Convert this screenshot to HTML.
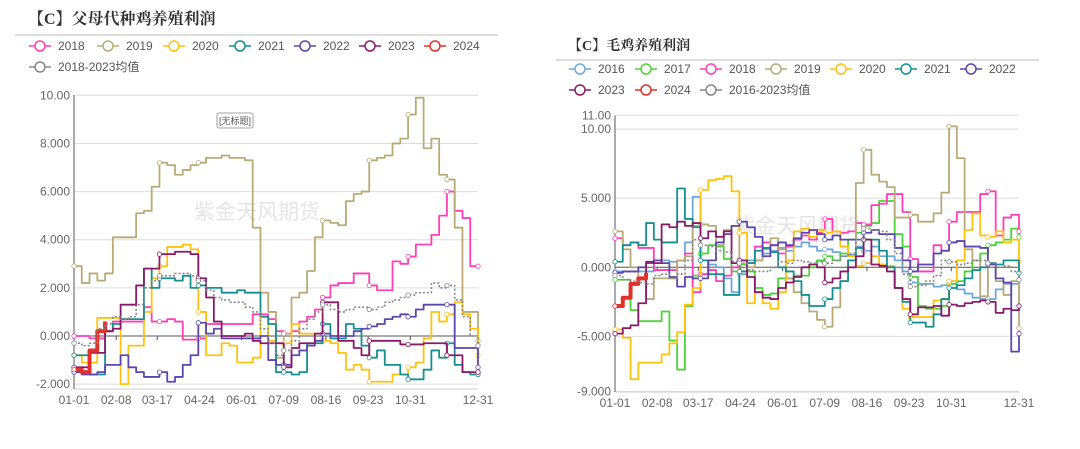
<!DOCTYPE html>
<html><head><meta charset="utf-8"><style>
body{margin:0;background:#fff;}
svg text{font-family:"Liberation Sans","Noto Sans CJK SC",sans-serif;}
</style></head><body>
<svg id="svg" width="1080" height="444" viewBox="0 0 1080 444" xmlns="http://www.w3.org/2000/svg">
<rect x="0" y="0" width="1080" height="444" fill="#fff"/>
<text x="28" y="24" font-size="16" font-weight="bold" fill="#333" style="font-family:'Liberation Serif','Noto Serif CJK SC',serif">【C】父母代种鸡养殖利润</text>
<line x1="15" y1="35" x2="498" y2="35" stroke="#bbb" stroke-width="1"/>
<text x="568" y="50" font-size="14" font-weight="bold" fill="#333" style="font-family:'Liberation Serif','Noto Serif CJK SC',serif">【C】毛鸡养殖利润</text>
<line x1="556" y1="60" x2="1039" y2="60" stroke="#bbb" stroke-width="1"/>
<g id="left"></g>
<g id="right"></g>
<g>
<rect x="217" y="113" width="36" height="15" rx="2" fill="#fff" stroke="#888" stroke-width="0.8"/>
<text x="235" y="124" font-size="9" fill="#555" text-anchor="middle">[无标题]</text>
</g>
</svg>
<script>
// ===== Left chart data (weekly, week 0 = 01-01) =====
const leftYears = ["2018","2019","2020","2021","2022","2023","2024","2018-2023均值"];
const L2018 = [0,0,-0.1,-0.1,0.2,0.6,0.6,0.6,0.6,1.2,0.6,0.6,0.7,0.6,-0.15,-0.15,-0.1,0.5,0.5,0.5,0.5,0.5,0.5,0.9,0.9,0.7,0.2,0.1,0.2,0.6,0.8,1.1,1.6,2.1,2.2,2.2,2.6,2.6,2.1,1.9,1.9,3.1,3.0,3.3,3.8,3.8,4.2,5.0,6.0,5.2,4.9,2.9,2.9];
const L2019 = [2.9,2.2,2.6,2.3,2.6,4.1,4.1,4.1,5.1,5.2,6.2,7.2,7.1,6.7,6.9,7.1,7.2,7.4,7.4,7.5,7.4,7.4,7.3,4.5,1.8,1.0,-0.9,0.1,1.6,1.8,2.7,4.1,4.8,4.7,4.6,5.6,5.9,6.0,7.3,7.4,7.5,8.0,8.2,9.2,9.9,7.8,8.2,6.7,6.5,4.5,1.0,1.0,-0.2];
const L2020 = [-0.8,-1.1,-1.1,0.75,0.75,0.75,-2.0,-0.4,-0.4,1.0,2.4,2.9,3.7,3.7,3.8,3.6,1.0,-0.8,-0.8,-0.3,-0.4,-1.1,-1.1,-0.9,0.8,-0.2,-0.3,-0.3,0.5,0.1,0.1,0.1,-0.2,-0.3,-0.7,-1.4,-1.2,-1.4,-1.9,-1.9,-1.9,-1.6,-1.6,-1.3,-1.1,-0.1,1.0,0.6,0.9,1.4,0.9,0.3,-0.8];
const L2021 = [-0.8,-0.8,-1.6,-1.6,0.2,0.5,0.7,0.7,0.7,2.8,2.0,2.4,2.4,2.3,2.5,2.0,2.1,2.0,2.0,1.8,1.8,1.9,1.8,1.8,0.8,0.5,-1.5,-1.5,-1.6,-1.5,-0.3,-0.3,0.5,-0.1,-0.1,0.5,0.3,-0.4,-0.9,-0.6,-1.2,-1.2,-1.6,-1.8,-1.8,-1.4,-0.6,-0.9,-0.3,-1.2,-1.5,-1.6,-1.6];
const L2022 = [-1.5,-1.6,-1.6,-1.5,-1.2,-1.2,-0.8,-1.3,-1.5,-1.7,-1.7,-1.5,-1.9,-1.7,-1.2,-0.8,0.55,0.1,0.3,-0.1,-0.1,-0.1,-0.1,-0.1,0.0,-1.0,-1.2,-1.2,-0.8,-0.6,-0.4,-0.2,0.1,0.0,0.0,0.0,0.2,0.3,0.4,0.5,0.7,0.8,0.9,0.8,1.1,1.3,1.3,1.3,1.3,-0.5,-0.5,-0.5,-1.3];
const L2023 = [-1.3,-1.3,-0.7,-0.7,0.2,0.3,1.3,1.3,2.1,2.8,2.8,3.4,3.4,3.5,3.5,3.4,2.4,1.6,0.6,0.0,0.0,0.0,0.1,-0.2,-0.3,-0.3,-0.3,-1.3,-0.5,-0.3,-0.3,0.1,1.4,1.4,-0.2,-0.2,-0.5,-0.8,-0.2,-0.2,-0.2,-0.2,-0.35,-0.35,-0.35,-0.3,-0.3,-0.3,-0.8,-0.8,-1.5,-1.5,-1.5];
const L2024 = [-1.4,-1.5,-0.6,0.2,0.6];
const LAvg = [-0.3,-0.4,-0.3,0.3,0.5,0.8,0.7,0.8,1.3,2.0,2.3,2.5,2.5,2.6,2.6,2.5,2.3,1.9,1.6,1.5,1.4,1.4,1.2,1.0,0.3,-0.3,-0.8,-0.6,-0.2,0.3,0.7,1.0,1.3,1.1,1.0,1.1,1.2,1.2,1.1,1.2,1.4,1.5,1.6,1.7,1.8,1.8,2.2,2.0,2.1,1.5,0.8,0.0,-0.4];
const leftYTicks = ["10.00","8.000","6.000","4.000","2.000","0.000","-2.000"];
const leftYTickVals = [10,8,6,4,2,0,-2];

// ===== Right chart data =====
const rightYears = ["2016","2017","2018","2019","2020","2021","2022","2023","2024","2016-2023均值"];
const R2016 = [-0.3,-0.3,-0.3,-0.3,-0.3,0.5,0.5,0.4,0.5,1.8,5.1,-0.5,0.2,0.0,-0.8,-1.8,-0.5,0.5,0.5,1.0,1.2,1.4,1.2,1.5,1.8,1.5,1.2,1.3,1.1,0.8,0.9,1.5,1.2,1.5,0.8,0.8,0.5,-0.3,-1.1,-1.2,-1.2,-1.4,-1.3,-1.2,-1.6,-1.9,-2.2,-2.3,-2.3,-1.6,-1.2,-1.2,-0.4];
const R2017 = [-0.9,-0.9,-3.1,-3.9,-3.9,-3.9,-3.2,-5.3,-7.4,-2.8,-0.6,1.0,1.6,1.5,0.6,-0.3,0.2,-0.3,-1.5,-2.0,-1.9,-0.8,-0.8,-0.6,-0.6,0.0,0.5,0.8,0.5,1.0,2.0,2.5,3.0,3.2,4.8,4.8,2.4,1.5,-0.7,-2.8,-3.0,-3.0,-2.8,-1.2,-1.0,-0.3,0.5,1.0,1.6,1.8,2.0,2.8,2.2];
const R2018 = [2.1,1.6,1.8,1.4,1.4,-0.2,-0.2,-0.2,0.5,1.0,-1.8,-0.5,-0.2,-1.0,-0.6,0.0,0.5,0.3,1.5,1.8,1.6,1.0,1.5,2.0,2.3,2.0,2.5,3.5,2.6,2.5,2.6,3.2,3.1,4.5,4.6,5.3,5.3,4.0,0.6,-0.3,-0.3,1.6,1.2,3.3,4.0,4.0,4.0,5.3,5.5,2.3,3.6,3.8,2.6];
const R2019 = [2.6,1.3,0.0,-0.8,-2.3,-0.8,-0.8,-0.8,0.5,0.8,3.0,3.1,3.0,1.6,2.7,3.0,0.5,0.0,0.5,1.3,2.1,1.3,-0.8,-1.8,-2.6,-3.2,-3.8,-4.3,-2.9,-1.0,0.5,6.1,8.5,6.7,6.2,5.8,3.6,3.6,3.8,3.3,3.3,3.9,5.4,10.2,7.9,1.3,0.5,-2.1,0.3,-1.0,-2.0,-1.0,-4.4];
const R2020 = [-4.5,-5.1,-8.1,-6.9,-6.9,-6.9,-6.3,-5.5,-4.7,-2.7,-1.5,5.6,6.3,6.4,6.6,5.5,2.5,-2.6,-1.8,-2.6,-3.0,-1.8,0.5,2.6,2.8,2.2,2.7,2.5,2.6,1.5,0.8,0.1,0.3,0.8,0.2,0.1,-1.5,-3.0,-3.6,-3.6,-3.6,-2.4,-2.3,-1.0,0.5,2.7,3.9,2.3,2.2,2.6,1.8,2.0,0.4];
const R2021 = [0.4,1.6,1.8,1.6,3.2,2.0,1.8,1.8,5.7,3.5,2.9,0.5,-0.5,-0.5,-2.0,-2.0,-0.3,0.3,1.2,1.4,1.1,0.0,-0.3,-1.0,-2.0,-2.8,-2.8,-2.3,-1.5,-1.0,0.5,1.4,2.0,2.0,1.2,0.0,-1.5,-2.5,-4.0,-4.0,-4.3,-3.4,-2.3,-1.5,-1.3,-0.8,-0.2,0.0,0.3,0.2,0.5,0.5,-0.4];
const R2022 = [-0.4,-0.3,-0.3,0.0,0.3,0.5,0.3,-0.7,-1.4,-0.7,-0.8,-0.8,0.5,1.8,2.4,3.0,3.3,2.9,2.2,0.8,1.6,1.8,1.6,2.1,2.5,2.7,2.4,2.0,2.3,2.0,2.0,2.0,2.5,2.7,2.4,2.4,1.4,0.5,-0.3,0.2,0.2,1.0,1.2,1.8,1.9,1.5,1.5,1.4,0.2,-0.8,-1.1,-6.1,-4.8];
const R2023 = [-4.8,-4.4,-4.2,-2.6,0.4,0.3,3.1,2.9,3.3,3.0,3.2,2.1,2.6,2.2,2.6,0.3,0.5,-0.7,-1.8,-2.2,-2.3,-1.5,-1.1,-0.7,0.0,0.2,0.0,-1.1,-0.8,-0.3,0.0,0.8,2.0,0.2,0.1,-0.3,-1.5,-2.3,-3.4,-2.9,-2.9,-2.8,-3.5,-2.7,-2.8,-2.6,-2.5,-2.4,-2.5,-3.3,-3.0,-3.1,-2.8];
const R2024 = [-2.8,-2.2,-1.2,-0.8,-0.4];
const RAvg = [-0.6,-0.9,-1.0,-1.1,-1.2,-0.6,-0.5,-0.8,-0.5,0.5,2.0,1.6,1.5,1.2,1.1,0.4,0.3,-0.2,-0.3,-0.3,0.0,0.4,0.3,0.5,0.4,0.3,0.4,0.3,0.5,0.8,1.0,2.0,2.8,2.7,2.6,2.0,1.0,-0.5,-1.4,-1.3,-1.0,-0.6,0.5,0.4,0.2,0.3,0.5,0.5,0.3,0.0,0.1,-0.3,-0.9];
const rightYTicks = ["11.00","10.00","5.000","0.000","-5.000","-9.000"];
const rightYTickVals = [11,10,5,0,-5,-9];

const xTickLabels = ["01-01","02-08","03-17","04-24","06-01","07-09","08-16","09-23","10-31","12-31"];
const xTickDays = [0,38,75,113,151,189,227,265,303,364];

const NS = "http://www.w3.org/2000/svg";
function mk(tag, attrs, parent){ const e=document.createElementNS(NS,tag); for(const k in attrs) e.setAttribute(k,attrs[k]); if(parent) parent.appendChild(e); return e; }

function drawChart(g, cfg){
  const xS = d => cfg.x0 + d/364*(cfg.x1-cfg.x0);
  const yS = v => cfg.yZero - v*cfg.ppu;
  cfg.yTickVals.forEach((v,i)=>{
    const gl = mk("line",{x1:cfg.x0,x2:cfg.x1,y1:yS(v),y2:yS(v),stroke:v===0?"#555":"#ddd","stroke-width":1},g);
    
    
    const t = mk("text",{x:cfg.x0-4,y:yS(v)+4,"font-size":12,fill:"#666","text-anchor":"end"},g);
    t.textContent = cfg.yTicks[i];
    
    
  });
  const bl = mk("line",{x1:cfg.x0,x2:cfg.x1,y1:cfg.yBottom,y2:cfg.yBottom,stroke:"#ccc","stroke-width":1},g);
  
  
  const ax = mk("line",{x1:cfg.x0,x2:cfg.x0,y1:cfg.yTop,y2:cfg.yBottom,stroke:"#555","stroke-width":1},g);
  
  
  xTickLabels.forEach((lab,i)=>{
    const x = xS(xTickDays[i]);
    const tk = mk("line",{x1:x,x2:x,y1:yS(0),y2:yS(0)+4,stroke:"#555"},g);
    
    
    const t = mk("text",{x:x,y:cfg.yBottom+15,"font-size":12,fill:"#666","text-anchor":"middle"},g);
    t.textContent = lab;
    
    
  });
  const wm = mk("text",{x:cfg.wmX,y:cfg.wmY,"font-size":21,fill:"#ccc","fill-opacity":0.5},g);
  wm.textContent = "紫金天风期货";
  
  
  cfg.series.forEach((s,si)=>{
    let d="";
    s.data.forEach((v,i)=>{
      const x = xS(Math.min(i*7,364)), y=yS(v);
      if(i===0) d+="M"+x+","+y;
      else { d+="H"+x+"V"+y; }
    });
    if(s.data.length===53) d+="H"+xS(364);
    const p = mk("path",{d:d,fill:"none",stroke:s.color,"stroke-width":s.w||1.8,"stroke-dasharray":s.dash||"none","stroke-linejoin":"round"},g);
    
    
    const marks = s.data.length===53 ? [0,11,16,27,32,38,43,48,52] : [0];
    marks.forEach(i=>{
      const c = mk("circle",{cx:xS(Math.min(i*7,364)),cy:yS(s.data[i]),r:2.2,fill:"#fff",stroke:s.color,"stroke-width":0.8},g);
      
      
    });
  });
  cfg.series.forEach((s,i)=>{
    const pos = cfg.legendPos[i];
    const lg = mk("g",{},g);
    
    
    mk("line",{x1:pos[0],x2:pos[0]+22,y1:pos[1],y2:pos[1],stroke:s.color,"stroke-width":1.5},lg);
    mk("circle",{cx:pos[0]+11,cy:pos[1],r:5,fill:"#fff",stroke:s.color,"stroke-width":1.5},lg);
    const t = mk("text",{x:pos[0]+29,y:pos[1]+4,"font-size":12,fill:"#555"},lg);
    t.textContent = s.name;
  });
}

const C = {y18:"#ff3fb4",y19:"#b8ab78",y20:"#ffc20e",y21:"#16908f",y22:"#5b47ad",y23:"#8a1a68",y24:"#e0322a",avg:"#888"};

drawChart(document.getElementById("left"),{
  x0:74,x1:478,yZero:336,ppu:24.07,yTop:95,yBottom:389,
  yTicks:leftYTicks,yTickVals:leftYTickVals,wmX:194,wmY:219,
  series:[
    {name:leftYears[0],data:L2018,color:C.y18},
    {name:leftYears[1],data:L2019,color:C.y19},
    {name:leftYears[2],data:L2020,color:C.y20},
    {name:leftYears[3],data:L2021,color:C.y21},
    {name:leftYears[4],data:L2022,color:C.y22},
    {name:leftYears[5],data:L2023,color:C.y23},
    {name:leftYears[6],data:L2024,color:C.y24,w:4},
    {name:leftYears[7],data:LAvg,color:C.avg,dash:"2,2",w:1.6}
  ],
  legendPos:[[29,46],[97,46],[163,46],[229,46],[294,46],[359,46],[424,46],[29,67]]
});

drawChart(document.getElementById("right"),{
  x0:615,x1:1019,yZero:267.3,ppu:13.82,yTop:115.5,yBottom:392,
  yTicks:rightYTicks,yTickVals:rightYTickVals,wmX:734,wmY:233,
  series:[
    {name:rightYears[0],data:R2016,color:"#6fa8dc"},
    {name:rightYears[1],data:R2017,color:"#4cd23a"},
    {name:rightYears[2],data:R2018,color:C.y18},
    {name:rightYears[3],data:R2019,color:C.y19},
    {name:rightYears[4],data:R2020,color:C.y20},
    {name:rightYears[5],data:R2021,color:C.y21},
    {name:rightYears[6],data:R2022,color:C.y22},
    {name:rightYears[7],data:R2023,color:C.y23},
    {name:rightYears[8],data:R2024,color:C.y24,w:4},
    {name:rightYears[9],data:RAvg,color:C.avg,dash:"2,2",w:1.6}
  ],
  legendPos:[[569,69],[635,69],[700,69],[765,69],[830,69],[895,69],[960,69],[569,90],[635,90],[700,90]]
});
</script>
</body></html>
